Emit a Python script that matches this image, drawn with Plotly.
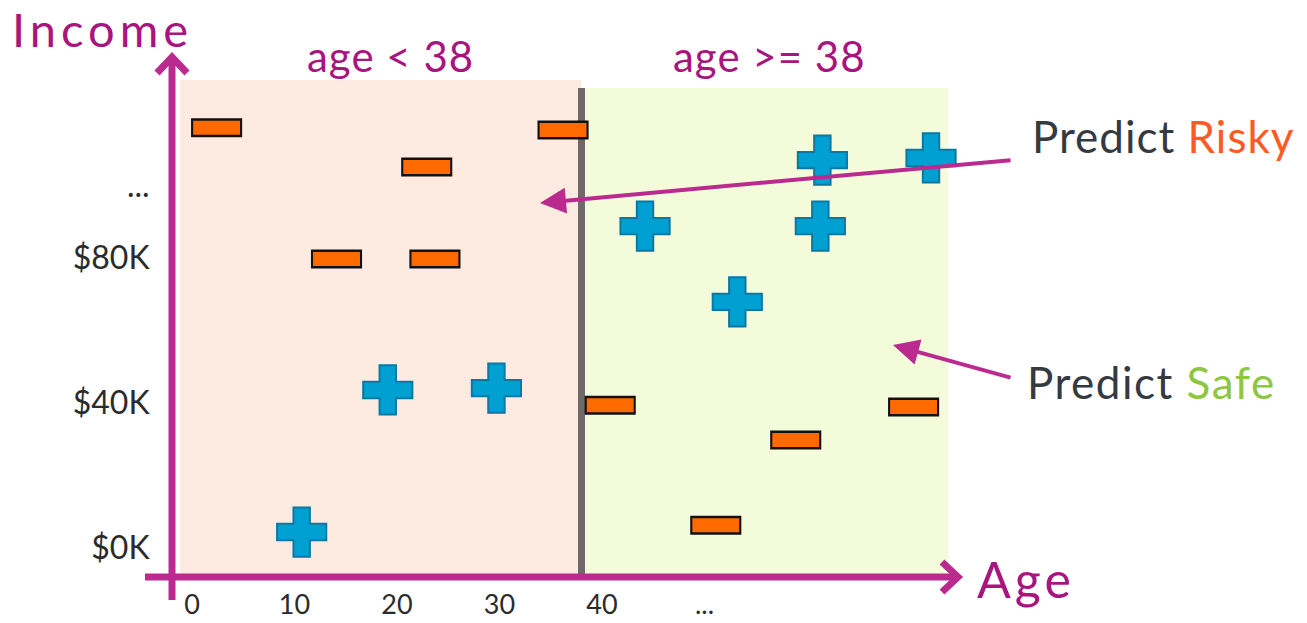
import plotly.graph_objects as go

### Data ###
risky_age = [2.4, 36.2, 22.9, 14.1, 23.7, 40.8, 70.4, 58.9, 51.1]
risky_income = [115.9, 115.3, 105.1, 79.7, 79.7, 39.4, 38.9, 29.8, 6.3]

safe_age = [10.7, 19.1, 29.7, 44.2, 53.2, 61.3, 61.5, 72.1]
safe_income = [4.4, 43.6, 44.1, 88.8, 67.9, 88.8, 107.0, 107.6]

split_age = 38

age_ticks = [0, 10, 20, 30, 40, 50]
age_tick_labels = ["0", "10", "20", "30", "40", "..."]
income_ticks = [0, 40, 80, 100]
income_tick_labels = ["$0K", "$40K", "$80K", "..."]

### Layout helpers (pixel -> paper) ###
W, H = 1307, 623
L, B = 165, 43
PW, PH = W - L, H - B


def px(x):
    return (x - L) / PW


def py(y):
    return (PH - y) / PH


MAG = "#bb2a8e"
MAG_TEXT = "#a8157f"
FONT = "Lato"

fig = go.Figure()

fig.add_trace(go.Scatter(
    x=risky_age, y=risky_income, mode="markers", hoverinfo="skip",
    marker=dict(symbol="line-ew", size=36.5, line=dict(width=19, color="#111111")),
))
fig.add_trace(go.Scatter(
    x=risky_age, y=risky_income, mode="markers", name="Risky",
    marker=dict(symbol="line-ew", size=33.5, line=dict(width=14, color="#ff6a00")),
))
fig.add_trace(go.Scatter(
    x=safe_age, y=safe_income, mode="markers", name="Safe",
    marker=dict(symbol="cross", size=41, color="#00a0d2",
                line=dict(width=2, color="#0b78a3")),
))

# regions
fig.add_shape(type="rect", layer="below", line_width=0, fillcolor="#fdebe1",
              x0=-1.17, x1=split_age, y0=-8.3, y1=129.1)
fig.add_shape(type="rect", layer="below", line_width=0, fillcolor="#f3fbdb",
              x0=split_age, x1=73.8, y0=-8.3, y1=126.9)
fig.add_shape(type="line", layer="below", line=dict(color="#6e6a6a", width=7),
              x0=split_age, x1=split_age, y0=-8.3, y1=126.9)

# axis arrows
axis = dict(color=MAG, width=7)
fig.add_shape(type="line", xref="paper", yref="paper", line=axis,
              x0=px(172), x1=px(172), y0=py(600), y1=py(58))
fig.add_shape(type="path", xref="paper", yref="paper", line=axis,
              path=f"M {px(157)} {py(73)} L {px(172)} {py(57)} L {px(187)} {py(73)}")
fig.add_shape(type="line", xref="paper", yref="paper", line=axis,
              x0=px(145), x1=px(957), y0=py(577), y1=py(577))
fig.add_shape(type="path", xref="paper", yref="paper", line=axis,
              path=f"M {px(942)} {py(562)} L {px(958)} {py(577)} L {px(942)} {py(592)}")

# pointer arrows
fig.add_annotation(xref="paper", yref="paper", x=px(540), y=py(203), ax=472, ay=-43,
                   text="", showarrow=True, arrowhead=2, arrowsize=1.3,
                   arrowwidth=4, arrowcolor=MAG, standoff=0)
fig.add_annotation(xref="paper", yref="paper", x=px(893), y=py(345), ax=119, ay=33,
                   text="", showarrow=True, arrowhead=2, arrowsize=1.3,
                   arrowwidth=4, arrowcolor=MAG, standoff=0)


# labels
def label(text, x, y, size, color, spacing=0, xanchor="left"):
    fig.add_annotation(xref="paper", yref="paper", x=px(x), y=py(y),
                       text=f"<span style='letter-spacing:{spacing}px'>{text}</span>",
                       showarrow=False, xanchor=xanchor, yanchor="middle",
                       font=dict(family=FONT, size=size, color=color))


label("Income", 10, 29, 47, MAG_TEXT, 5)
label("Age", 975, 579, 50, MAG_TEXT, 4)
label("age < 38", 390, 56, 42, MAG_TEXT, 1, "center")
label("age >= 38", 769, 56, 42, MAG_TEXT, 1, "center")
label("Predict <span style='color:#ff5a1f'>Risky</span>", 1030, 136, 44, "#353a40", 1)
label("Predict <span style='color:#8dc63f'>Safe</span>", 1025, 382, 44, "#353a40", 1.5)

fig.update_layout(
    width=W, height=H,
    margin=dict(l=L, r=0, t=0, b=B, autoexpand=False),
    plot_bgcolor="white", paper_bgcolor="white",
    showlegend=False,
    font=dict(family=FONT, size=32, color="#2b2b2b"),
    xaxis=dict(range=[-2.634, 108.78], tickvals=age_ticks, ticktext=age_tick_labels,
               tickfont=dict(size=27),
               showgrid=False, zeroline=False, showline=False, automargin=False,
               ticks="outside", ticklen=1, tickcolor="rgba(0,0,0,0)"),
    yaxis=dict(range=[(548 - PH) / 3.625, 548 / 3.625], tickvals=income_ticks,
               ticktext=income_tick_labels,
               showgrid=False, zeroline=False, showline=False, automargin=False,
               ticks="outside", ticklen=8, tickcolor="rgba(0,0,0,0)"),
)

fig.write_html("out.html", config={"displayModeBar": False},
               post_script="document.body.style.margin='0';")
